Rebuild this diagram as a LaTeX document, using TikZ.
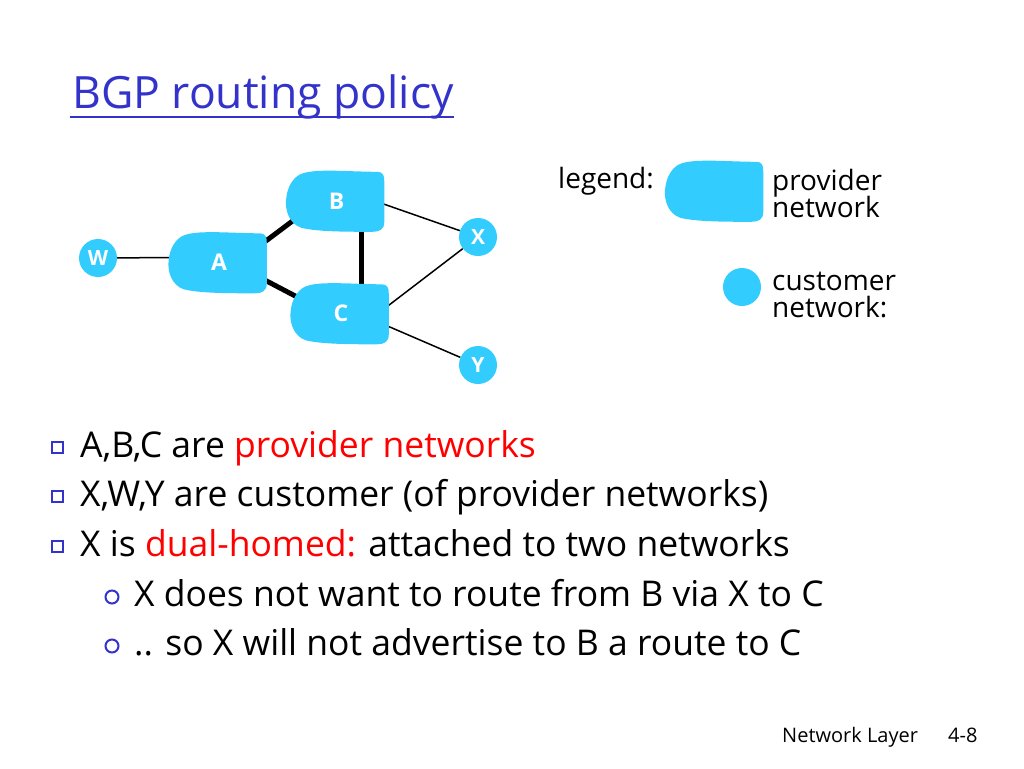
\documentclass[tikz,border=0pt]{standalone}
\usepackage{fontspec}
\setmainfont{Open Sans}
\usetikzlibrary{calc}
\definecolor{netblue}{RGB}{51,204,255}
\definecolor{titleblue}{RGB}{51,51,204}
\definecolor{hired}{RGB}{255,0,0}
\pgfdeclarelayer{lines}
\pgfdeclarelayer{blobs}
\pgfsetlayers{lines,blobs,main}
\newcommand\drawblob[1]{%
  \begin{scope}[shift={(#1.north west)}]
    \fill[netblue] (12,5) .. controls (25,-2) and (60,2) .. (90,2)
      .. controls (96,2) and (97,6) .. (97,12) -- (97,52)
      .. controls (97,60) and (92,62) .. (85,62)
      .. controls (60,62) and (30,62) .. (14,58)
      .. controls (2,54) and (-3,40) .. (-1,28)
      .. controls (0,18) and (5,9) .. (12,5) -- cycle;
  \end{scope}}
\tikzset{
  prov/.style={minimum width=98pt, minimum height=62pt, inner sep=0pt, text=white, font=\fontsize{23}{23}\selectfont\bfseries},
  cust/.style={circle, fill=netblue, minimum size=38pt, inner sep=0pt, text=white, font=\fontsize{21}{21}\selectfont\bfseries},
  link/.style={line width=1.5pt},
  peer/.style={line width=5pt},
  bodytext/.style={anchor=base west, inner sep=0pt, font=\fontsize{35.5}{35.5}\selectfont},
  legtext/.style={anchor=base west, inner sep=0pt, font=\fontsize{28}{28}\selectfont},
  sqbullet/.style={draw=titleblue, line width=2pt, minimum size=11pt, inner sep=0pt},
  cbullet/.style={circle, draw=titleblue, line width=2pt, minimum size=13pt, inner sep=0pt},
}
\begin{document}
\begin{tikzpicture}[x=1pt,y=-1pt]
\useasboundingbox (0,0) rectangle (1024,768);
% title
\node[anchor=base west, inner sep=0pt, text=titleblue, font=\fontsize{44.5}{44.5}\selectfont] (title) at (72,108) {BGP routing policy};
\draw[titleblue, line width=2.5pt] ($(title.base west)+(-2,9)$) coordinate (ulA) -- ($(title.base east)+(0,9)$) coordinate (ulB);
% networks
\node[prov] (B) at (336.5,201) {B};
\node[prov] (A) at (219,262.5) {A};
\node[prov] (C) at (341,313.5) {C};
\node[cust] (W) at (98,258) {W};
\node[cust] (X) at (478,237) {X};
\node[cust] (Y) at (478,365) {Y};
\begin{pgfonlayer}{blobs}
  \drawblob{A}\drawblob{B}\drawblob{C}
\end{pgfonlayer}
\begin{pgfonlayer}{lines}
  \draw[link] (W) -- ($(A.west)+(10,-5)$);
  \draw[peer] ($(A.east)+(-13,-13.5)$) -- ($(B.south west)+(17,-20)$);
  \draw[peer] ($(A.east)+(-13,12.5)$) -- ($(C.west)+(13,-12.5)$);
  \draw[peer] ($(B.south)+(24.5,-7)$) -- ($(C.north)+(20,8)$);
  \draw[link] ($(B.east)+(-5,2)$) -- (X);
  \draw[link] ($(C.east)+(-5,-5.5)$) -- (X);
  \draw[link] ($(C.east)+(-5,11.5)$) -- (Y);
\end{pgfonlayer}
% legend
\node[legtext] (leg) at (558,188) {legend:};
\node[prov] (legprov) at (715.5,191) {};
\begin{pgfonlayer}{blobs}\drawblob{legprov}\end{pgfonlayer}
\node[legtext] (legprovtxt) at (772,190) {provider};
\node[legtext] (legprovtxtb) at (772,217) {network};
\node[cust] (legcust) at (742,287) {};
\node[legtext] (legcusttxt) at (772,290) {customer};
\node[legtext] (legcusttxtb) at (772,317) {network:};
% bullets
\node[sqbullet] (b1) at (57,447) {};
\node[sqbullet] (b2) at (57,496) {};
\node[sqbullet] (b3) at (57,546) {};
\node[cbullet] (s1) at (112,597) {};
\node[cbullet] (s2) at (112,646) {};
\node[bodytext] (t1) at (80,457) {A,B,C are \textcolor{hired}{provider networks}};
\node[bodytext] (t2) at (80,506) {X,W,Y are customer (of provider networks)};
\node[bodytext] (t3) at (80,556) {X is \textcolor{hired}{dual-homed:} attached to two networks};
\node[bodytext] (t4) at (134,606) {X does not want to route from B via X to C};
\node[bodytext] (t5) at (134,655) {.. so X will not advertise to B a route to C};
% footer
\node[anchor=base west, inner sep=0pt, font=\fontsize{20}{20}\selectfont] (foot) at (782,742) {Network Layer};
\node[anchor=base west, inner sep=0pt, font=\fontsize{20}{20}\selectfont] (page) at (948,742) {4-8};
\end{tikzpicture}
\end{document}
